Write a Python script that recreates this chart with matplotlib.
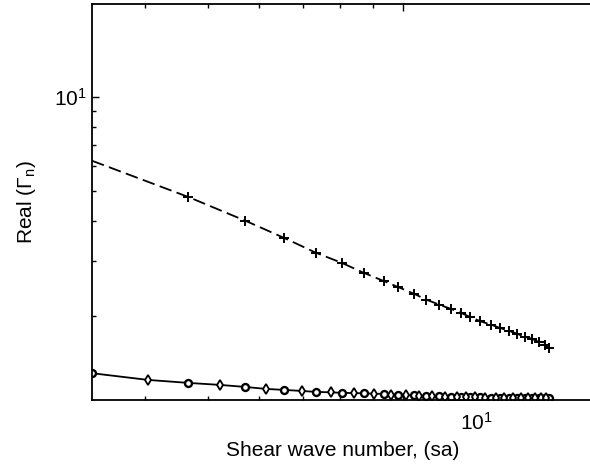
"""
Real part of Gamma_n versus shear wave number, log-log
"""

### Import modules
import numpy as np
import matplotlib
matplotlib.use('Agg')
import matplotlib.pyplot as plt
import matplotlib.ticker as mticker
import matplotlib.transforms as mtrans

### Data
# dashed branch (first point has no marker)
sa_plus = [3.31, 4.66, 5.71, 6.54, 7.33, 8.04, 8.70, 9.34, 9.82, 10.40, 10.86,
           11.37, 11.87, 12.30, 12.70, 13.16, 13.69, 14.09, 14.55, 15.02, 15.40,
           15.79, 16.19, 16.54, 16.78]
gam_plus = [6.25, 4.79, 4.02, 3.55, 3.18, 2.95, 2.74, 2.58, 2.47, 2.35, 2.25,
            2.17, 2.10, 2.04, 1.98, 1.92, 1.87, 1.83, 1.79, 1.75, 1.71,
            1.69, 1.65, 1.61, 1.58]

# solid branch, circles
sa_circ = [3.31, 4.66, 5.71, 6.54, 7.33, 8.04, 8.70, 9.34, 9.82, 10.40, 10.86,
           11.37, 11.87, 12.30, 12.70, 13.16, 13.69, 14.09, 14.55, 15.02, 15.40,
           15.79, 16.19, 16.54, 16.78]
gam_circ = [1.31, 1.220, 1.184, 1.159, 1.142, 1.134, 1.130, 1.125, 1.117, 1.112,
            1.108, 1.104, 1.101, 1.099, 1.097, 1.096, 1.095, 1.094, 1.093, 1.092,
            1.091, 1.091, 1.090, 1.090, 1.090]

# solid branch, diamonds
sa_diam = [4.04, 5.22, 6.15, 6.97, 7.73, 8.40, 9.02, 9.58, 10.1, 10.6, 11.1,
           11.6, 12.1, 12.5, 12.9, 13.4, 13.9, 14.3, 14.8, 15.2, 15.6, 16.0,
           16.35, 16.65]
gam_diam = [1.247, 1.202, 1.167, 1.150, 1.138, 1.132, 1.127, 1.120, 1.114, 1.110,
            1.106, 1.102, 1.100, 1.098, 1.096, 1.095, 1.094, 1.093, 1.092, 1.091,
            1.091, 1.090, 1.090, 1.090]

### Fonts
plt.rcParams['font.family'] = ['Liberation Sans', 'DejaVu Sans']
plt.rcParams['mathtext.fontset'] = 'custom'
plt.rcParams['mathtext.rm'] = 'Liberation Sans'
plt.rcParams['mathtext.it'] = 'Liberation Sans'

fig = plt.figure(figsize=(5.9, 4.7), dpi=100)
ax = fig.add_axes([0.156, 0.149, 0.848, 0.8425])

### Curves
ax.plot(sa_plus, gam_plus, color='k', lw=1.3, dashes=(7, 3))
ax.plot(sa_plus[1:], gam_plus[1:], ls='none', marker='+', ms=7.5, mew=1.4, color='k')

sa_line = sorted(sa_circ + sa_diam)
gam_line = [g for _, g in sorted(zip(sa_circ + sa_diam, gam_circ + gam_diam))]
ax.plot(sa_line, gam_line, color='k', lw=1.3)
ax.plot(sa_circ, gam_circ, ls='none', marker='o', ms=5, mew=1.7,
        mfc='white', mec='k')
ax.plot(sa_diam, gam_diam, ls='none', marker='d', ms=5, mew=1.3,
        mfc='white', mec='k')

### Axes
ax.set_xscale('log')
ax.set_yscale('log')
ax.set_xlim(3.31, 19.6)
ax.set_ylim(1.076, 19.8)

ax.xaxis.set_major_locator(mticker.FixedLocator([10]))
ax.xaxis.set_minor_locator(mticker.FixedLocator([4, 5, 6, 7, 8, 9]))
ax.yaxis.set_major_locator(mticker.FixedLocator([10]))
ax.yaxis.set_minor_locator(mticker.FixedLocator([2, 3, 4, 5, 6, 7, 8, 9]))
ax.xaxis.set_major_formatter(mticker.NullFormatter())
ax.xaxis.set_minor_formatter(mticker.NullFormatter())
ax.yaxis.set_major_formatter(mticker.FixedFormatter(['$10^1$']))
ax.yaxis.set_minor_formatter(mticker.NullFormatter())

ax.tick_params(which='both', direction='in', top=True, right=False,
               width=1.0, labelsize=15, colors='k')
ax.tick_params(which='major', length=5)
ax.tick_params(which='minor', length=3)
for s in ax.spines.values():
    s.set_linewidth(1.3)
ax.spines['right'].set_visible(False)

# x tick label sits right of the 10 tick in the original
trans = mtrans.blended_transform_factory(ax.transData, ax.transAxes)
ax.text(13.0, -0.03, '$10^1$', transform=trans, ha='center', va='top',
        fontsize=15)

ax.set_xlabel('Shear wave number, (sa)', fontsize=15, labelpad=26)
ax.set_ylabel('Real (Γ$_{\\mathrm{n}}$)', fontsize=15, labelpad=12)

plt.savefig('out.png', dpi=100)
